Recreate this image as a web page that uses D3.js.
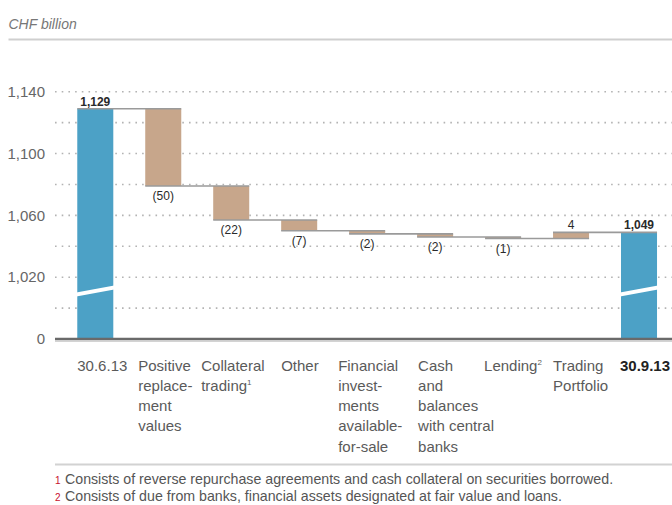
<!DOCTYPE html>
<html>
<head>
<meta charset="utf-8">
<script src="https://cdn.jsdelivr.net/npm/d3@7"></script>
<style>
  html, body { margin: 0; padding: 0; background: #fff; }
  svg { display: block; font-family: "Liberation Sans", Arial, sans-serif; }
</style>
</head>
<body>
<svg id="chart" width="672" height="505"></svg>
<script>
// ---------- data ----------
const categories = ["30.6.13", "Positive replacement values", "Collateral trading", "Other",
  "Financial investments available-for-sale", "Cash and balances with central banks",
  "Lending", "Trading Portfolio", "30.9.13"];
const categoryLines = [
  ["30.6.13"],
  ["Positive", "replace-", "ment", "values"],
  ["Collateral", "trading"],
  ["Other"],
  ["Financial", "invest-", "ments", "available-", "for-sale"],
  ["Cash", "and", "balances", "with central", "banks"],
  ["Lending"],
  ["Trading", "Portfolio"],
  ["30.9.13"]
];
const footnoteMarks = ["", "", "1", "", "", "", "2", "", ""];
const values = [1129, -50, -22, -7, -2, -2, -1, 4, 1049];
const kinds = ["total", "delta", "delta", "delta", "delta", "delta", "delta", "delta", "total"];
const yTickValues = [0, 1020, 1060, 1100, 1140];
const gridValues = [1000, 1020, 1040, 1060, 1080, 1100, 1120, 1140];
const footnotes = [
  ["1", "Consists of reverse repurchase agreements and cash collateral on securities borrowed."],
  ["2", "Consists of due from banks, financial assets designated at fair value and loans."]
];
const unitLabel = "CHF billion";

// ---------- layout ----------
const svg = d3.select("#chart");
const BLUE = "#4ca1c6", BROWN = "#c7a68b";
const labelNudge = [0, -7, -12, 0, -11, 1, -1, 0, -1];

// broken axis: 0 sits at the bottom, the visible range starts at 980
const y = d3.scaleLinear().domain([0, 980, 1140]).range([339, 339, 91.7]);
const x = d3.scaleBand().domain(categories).range([61.3, 673])
  .paddingInner(0.47).paddingOuter(0.235);
const bw = x.bandwidth();

// unit label + top rule
svg.append("text").attr("x", 8.5).attr("y", 29).attr("font-size", 14)
  .attr("font-style", "italic").attr("fill", "#777").text(unitLabel);
svg.append("line").attr("x1", 8.5).attr("x2", 672).attr("y1", 39.5).attr("y2", 39.5)
  .attr("stroke", "#cfcfcf").attr("stroke-width", 2);

// gridlines
svg.append("g").selectAll("line").data(gridValues).join("line")
  .attr("x1", 55).attr("x2", 672)
  .attr("y1", d => y(d)).attr("y2", d => y(d))
  .attr("stroke", "#b3b3b3").attr("stroke-width", 1.6)
  .attr("stroke-dasharray", "1.6,5.1");

// y axis labels
const yAxis = svg.append("g").attr("transform", "translate(52,0)")
  .call(d3.axisLeft(y).tickValues(yTickValues).tickFormat(d3.format(",")).tickSize(0).tickPadding(7));
yAxis.select(".domain").remove();
yAxis.selectAll("text").attr("font-size", 15).attr("fill", "#666")
  .attr("font-family", "Liberation Sans, Arial, sans-serif");

// compute waterfall geometry
let running = 0;
const bars = values.map((v, i) => {
  let start, end;
  if (kinds[i] === "total") { start = 0; end = v; running = v; }
  else { start = running; end = running + v; running = end; }
  return { cat: categories[i], v, kind: kinds[i], start, end,
           lo: Math.min(start, end), hi: Math.max(start, end) };
});

// bars
svg.append("g").selectAll("rect").data(bars).join("rect")
  .attr("x", d => x(d.cat)).attr("width", bw)
  .attr("y", d => y(d.hi)).attr("height", d => Math.max(1, y(d.lo) - y(d.hi)))
  .attr("fill", d => d.kind === "total" ? BLUE : BROWN);

// axis break marks on total bars
svg.append("g").selectAll("path").data(bars.filter(d => d.kind === "total")).join("path")
  .attr("d", d => {
    const x0 = x(d.cat) - 1, x1 = x(d.cat) + bw + 1, yc = y(1011);
    return `M${x0},${yc + 1.5} L${x1},${yc - 5.5} L${x1},${yc - 1.5} L${x0},${yc + 5.5} Z`;
  })
  .attr("fill", "#fff");

// connectors
svg.append("g").selectAll("line").data(bars.slice(0, -1)).join("line")
  .attr("x1", (d, i) => x(d.cat))
  .attr("x2", (d, i) => x(categories[i + 1]) + bw)
  .attr("y1", d => y(d.end)).attr("y2", d => y(d.end))
  .attr("stroke", "#9a9a9a").attr("stroke-width", 1.6);

// axis line
svg.append("line").attr("x1", 55).attr("x2", 672).attr("y1", 339).attr("y2", 339)
  .attr("stroke", "#6a6a6a").attr("stroke-width", 2.4);
svg.append("line").attr("x1", 55).attr("x2", 672).attr("y1", 341.2).attr("y2", 341.2)
  .attr("stroke", "#c4c4c4").attr("stroke-width", 1.2);

// value labels
const fmt = d3.format(",");
svg.append("g").selectAll("text").data(bars).join("text")
  .attr("x", d => x(d.cat) + bw / 2)
  .attr("y", d => d.v < 0 ? y(d.lo) + 14.5 : y(d.hi) - 3)
  .attr("text-anchor", "middle").attr("font-size", 12).attr("fill", "#2a2a2a")
  .attr("font-weight", d => d.kind === "total" ? "bold" : "normal")
  .text(d => d.kind === "total" ? fmt(d.v) : (d.v < 0 ? `(${-d.v})` : `${d.v}`));

// category labels
const catG = svg.append("g");
categories.forEach((c, i) => {
  const t = catG.append("text")
    .attr("x", x(c) + labelNudge[i]).attr("y", 370.5)
    .attr("font-size", 15)
    .attr("fill", kinds[i] === "total" && i > 0 ? "#222" : "#5a5a5a")
    .attr("font-weight", i === categories.length - 1 ? "bold" : "normal");
  categoryLines[i].forEach((ln, j) => {
    t.append("tspan").attr("x", x(c) + labelNudge[i])
      .attr("dy", j === 0 ? 0 : 20.3).text(ln);
    if (j === categoryLines[i].length - 1 && footnoteMarks[i]) {
      t.append("tspan").attr("font-size", 8).attr("dy", -6).text(footnoteMarks[i]);
    }
  });
});

// footnote rule + footnotes
svg.append("line").attr("x1", 55).attr("x2", 672).attr("y1", 464.5).attr("y2", 464.5)
  .attr("stroke", "#d2d2d2").attr("stroke-width", 2);
footnotes.forEach((f, i) => {
  const t = svg.append("text").attr("x", 55).attr("y", 484 + i * 17).attr("font-size", 14.2).attr("fill", "#555");
  t.append("tspan").attr("fill", "#c8102e").attr("font-size", 10).text(f[0]);
  t.append("tspan").attr("x", 65).text(f[1]);
});
</script>
</body>
</html>
